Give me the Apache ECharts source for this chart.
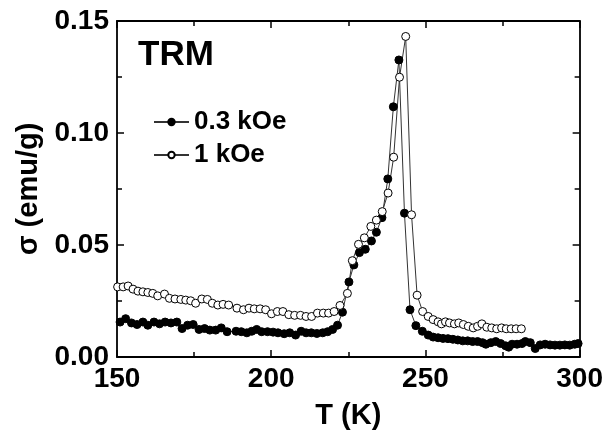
<!DOCTYPE html>
<html>
<head>
<meta charset="utf-8">
<script src="https://cdn.jsdelivr.net/npm/echarts@6/dist/echarts.min.js"></script>
<style>
html,body{margin:0;padding:0;background:#fff;}
#chart{width:606px;height:435px;}
</style>
</head>
<body>
<div id="chart"></div>
<script>
// ---- data ----
var seriesNames = ['0.3 kOe', '1 kOe'];
var xTicks = [150, 200, 250, 300];
var yTicks = [0.00, 0.05, 0.10, 0.15];

var tClosed = [151.0,152.8,154.7,156.5,158.4,160.0,162.0,163.8,165.6,167.5,169.4,
  171.1,172.9,174.7,176.6,178.4,180.1,182.0,183.8,185.7,
  188.6,190.3,192.1,193.7,195.3,196.9,198.8,200.6,202.2,204.2,206.0,207.9,209.7,211.3,213.0,214.8,216.7,218.3,219.9,221.5,223.1,
  225.2,226.8,228.6,230.5,232.5,234.1,235.9,237.8,239.6,241.4,243.2,245.0,246.9,249.0,250.9,
  252.5,254.1,255.7,257.3,258.9,260.5,262.1,263.7,265.3,266.9,268.5,269.6,271.2,272.8,274.4,276.0,277.0,278.1,279.7,281.3,282.4,284.0,285.6,287.2,288.8,290.4,292.0,293.6,295.2,296.8,298.4,299.5];
var sClosed = [0.0156,0.0171,0.0152,0.0145,0.0156,0.0142,0.0156,0.0148,0.0156,0.0152,0.0156,
  0.0127,0.0142,0.0145,0.0123,0.0127,0.0120,0.0120,0.0130,0.0113,
  0.0115,0.0113,0.0108,0.0115,0.0123,0.0113,0.0113,0.0111,0.0108,0.0104,0.0108,0.0098,0.0115,0.0108,0.0108,0.0105,0.0108,0.0113,0.0123,0.0142,0.0200,
  0.0335,0.0411,0.0466,0.0481,0.0518,0.0557,0.0622,0.0795,0.1117,0.1326,0.0642,0.0211,0.0140,0.0115,0.0098,
  0.0089,0.0086,0.0083,0.0082,0.0079,0.0076,0.0072,0.0072,0.0069,0.0069,0.0064,0.0057,0.0064,0.0069,0.0060,0.0050,0.0044,0.0057,0.0057,0.0060,0.0069,0.0064,0.0038,0.0054,0.0057,0.0054,0.0053,0.0053,0.0054,0.0053,0.0057,0.0060];

var tOpen = [150.2,152.0,153.6,155.2,156.8,158.4,160.0,161.6,163.2,165.4,167.0,168.8,170.7,172.3,173.9,175.5,177.5,179.3,180.9,182.7,184.4,186.2,
  188.9,191.0,192.8,194.5,196.4,198.2,200.1,202.0,203.8,205.7,207.6,209.5,211.3,213.1,215.0,216.9,218.6,220.4,222.3,
  224.7,226.3,228.3,230.2,232.3,234.1,236.0,237.9,239.7,241.6,243.6,245.5,247.3,249.1,
  250.9,252.5,254.1,255.2,256.5,257.8,259.4,260.8,262.3,263.9,265.5,266.9,268.3,269.9,271.5,273.1,274.7,276.2,277.8,279.4,281.1];
var sOpen = [0.0313,0.0313,0.0317,0.0303,0.0294,0.0291,0.0288,0.0284,0.0273,0.0281,0.0262,0.0259,0.0257,0.0254,0.0251,0.0240,0.0259,0.0257,0.0240,0.0232,0.0235,0.0232,
  0.0218,0.0211,0.0218,0.0215,0.0215,0.0211,0.0193,0.0203,0.0203,0.0189,0.0186,0.0186,0.0181,0.0181,0.0196,0.0196,0.0196,0.0203,0.0230,
  0.0284,0.0430,0.0503,0.0532,0.0583,0.0611,0.0649,0.0732,0.0892,0.1249,0.1431,0.0635,0.0276,0.0203,
  0.0181,0.0167,0.0157,0.0148,0.0157,0.0152,0.0148,0.0152,0.0145,0.0137,0.0130,0.0137,0.0148,0.0133,0.0130,0.0126,0.0130,0.0126,0.0126,0.0126,0.0126];

function pairs(xs, ys){ return xs.map(function(x,i){ return [x, ys[i]]; }); }

var chart = echarts.init(document.getElementById('chart'), null, {renderer:'canvas'});
var FONT = 'Liberation Sans, Arial, sans-serif';
var tickCommon = {
  axisLine:{show:true, onZero:false, lineStyle:{color:'#000', width:1.8}},
  axisTick:{show:true, inside:true, length:7, lineStyle:{color:'#000', width:1.5}},
  minorTick:{show:true, splitNumber:2, length:5, lineStyle:{color:'#000', width:1.5}},
  splitLine:{show:false},
  minorSplitLine:{show:false}
};
function ax(extra){ var o = JSON.parse(JSON.stringify(tickCommon)); for (var k in extra) o[k]=extra[k]; return o; }

chart.setOption({
  animation:false,
  backgroundColor:'#fff',
  grid:{left:117, right:22, top:21, bottom:72, containLabel:false},
  graphic:[{
    type:'text', left:138, top:38,
    style:{text:'TRM', font:'bold 35px ' + FONT, fill:'#000'}
  }],
  legend:{
    data:seriesNames,
    orient:'vertical', left:148, top:103,
    itemWidth:35, itemHeight:8, itemGap:5,
    textStyle:{fontFamily:FONT, fontWeight:'bold', fontSize:26, color:'#000', lineHeight:28}
  },
  xAxis:[
    ax({type:'value', min:xTicks[0], max:xTicks[xTicks.length-1], interval:50, position:'bottom',
      name:'T (K)', nameLocation:'middle', nameGap:44,
      nameTextStyle:{fontFamily:FONT, fontWeight:'bold', fontSize:29, color:'#000'},
      axisLabel:{fontFamily:FONT, fontWeight:'bold', fontSize:28, color:'#000', margin:8}}),
    ax({type:'value', min:xTicks[0], max:xTicks[xTicks.length-1], interval:50, position:'top',
      axisLabel:{show:false}})
  ],
  yAxis:[
    ax({type:'value', min:yTicks[0], max:yTicks[yTicks.length-1], interval:0.05, position:'left',
      name:'σ (emu/g)', nameLocation:'middle', nameGap:69, nameRotate:90,
      nameTextStyle:{fontFamily:FONT, fontWeight:'bold', fontSize:29, color:'#000'},
      axisLabel:{fontFamily:FONT, fontWeight:'bold', fontSize:28, color:'#000', margin:8,
        formatter:function(v){ return v.toFixed(2); }}}),
    ax({type:'value', min:yTicks[0], max:yTicks[yTicks.length-1], interval:0.05, position:'right',
      axisLabel:{show:false}})
  ],
  series:[
    {name:seriesNames[0], type:'line', data:pairs(tClosed, sClosed),
      symbol:'circle', symbolSize:8, showAllSymbol:true,
      lineStyle:{color:'#333', width:1},
      itemStyle:{color:'#000', borderColor:'#000', borderWidth:1}},
    {name:seriesNames[1], type:'line', data:pairs(tOpen, sOpen),
      symbol:'circle', symbolSize:8, showAllSymbol:true,
      lineStyle:{color:'#333', width:1},
      itemStyle:{color:'#fff', borderColor:'#000', borderWidth:1}}
  ]
});
</script>
</body>
</html>
